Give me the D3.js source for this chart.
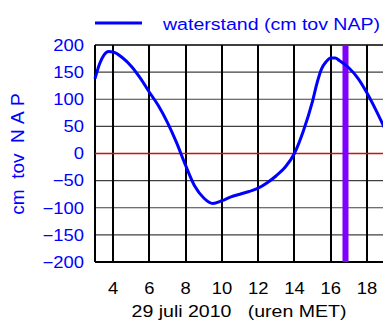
<!DOCTYPE html>
<html>
<head>
<meta charset="utf-8">
<script src="https://cdn.jsdelivr.net/npm/d3@7"></script>
<style>
  html, body { margin: 0; padding: 0; background: #fff; }
  svg { display: block; font-family: "Liberation Sans", Arial, sans-serif; }
</style>
</head>
<body>
<svg id="chart" width="383" height="326"></svg>
<script>
// Data (hours MET, 29 July 2010; water level in cm relative to NAP)
const hours = [3.0, 3.25, 3.5, 3.75, 4.0, 4.5, 5.0, 5.5, 6.0, 6.5, 7.0, 7.5, 8.0, 8.5, 9.0, 9.5, 10.0, 10.5, 11.0, 11.5, 12.0, 12.5, 13.0, 13.5, 14.0, 14.5, 15.0, 15.25, 15.5, 15.75, 16.0, 16.25, 16.5, 17.0, 17.5, 18.0, 18.5, 19.0];
const waterstand = [138, 165, 182, 188, 187, 177, 161, 139, 113, 88, 57, 20, -22, -60, -82, -92, -87, -80, -75, -70, -64, -54, -41, -25, 0, 42, 96, 130, 156, 169, 176, 176, 171, 158, 139, 112, 80, 45];
const xTicks = [4, 6, 8, 10, 12, 14, 16, 18];
const yTicks = [-200, -150, -100, -50, 0, 50, 100, 150, 200];
const markerHour = [16.82];
const legendLabel = "waterstand (cm tov NAP)";
const yTitle = "cm\u00a0\u00a0tov\u00a0\u00a0N\u00a0A\u00a0P";
const xTitle = "29 juli 2010\u00a0\u00a0\u00a0(uren MET)";

const svg = d3.select("#chart");
const x = d3.scaleLinear().domain([3, 19]).range([95, 385]);
const y = d3.scaleLinear().domain([-200, 200]).range([262, 45]);

const blue = "#0000ff";
const SX = 1.15; // horizontal stretch of the original lettering

function label(parent, tx, ty, txt, opts) {
  const g = parent.append("g")
    .attr("transform", `translate(${tx},${ty}) scale(${opts.sx || 1},1)`);
  g.append("text")
    .attr("text-anchor", opts.anchor || "start")
    .attr("dy", opts.dy || 0)
    .attr("fill", opts.fill || "#000")
    .attr("font-size", opts.size)
    .text(txt);
  return g;
}

// horizontal grid
svg.append("g").selectAll("line")
  .data(yTicks.filter(v => v !== 0 && v !== 200 && v !== -200))
  .join("line")
  .attr("x1", x(3)).attr("x2", x(19))
  .attr("y1", d => y(d)).attr("y2", d => y(d))
  .attr("stroke", "#000").attr("stroke-width", 1.2).attr("stroke-opacity", 0.75);

// vertical grid
svg.append("g").selectAll("line")
  .data(xTicks)
  .join("line")
  .attr("x1", d => Math.round(x(d))).attr("x2", d => Math.round(x(d)))
  .attr("y1", y(200)).attr("y2", y(-200))
  .attr("stroke", "#000").attr("stroke-width", 2);

// frame
svg.append("line").attr("x1", x(3)).attr("x2", x(19)).attr("y1", y(200)).attr("y2", y(200))
  .attr("stroke", "#000").attr("stroke-width", 1.5);
svg.append("line").attr("x1", x(3)).attr("x2", x(19)).attr("y1", y(-200)).attr("y2", y(-200))
  .attr("stroke", "#000").attr("stroke-width", 2);
svg.append("line").attr("x1", x(3)).attr("x2", x(3)).attr("y1", y(200)).attr("y2", y(-200))
  .attr("stroke", "#000").attr("stroke-width", 2);

// zero line
svg.append("line").attr("x1", x(3)).attr("x2", x(19)).attr("y1", y(0)).attr("y2", y(0))
  .attr("stroke", "#cc1111").attr("stroke-width", 1.5);

// marker (current time)
svg.append("g").selectAll("line").data(markerHour).join("line")
  .attr("x1", d => x(d)).attr("x2", d => x(d))
  .attr("y1", y(200)).attr("y2", y(-200))
  .attr("stroke", "#7f00ff").attr("stroke-width", 6);

// curve
const pts = hours.map((h, i) => [h, waterstand[i]]);
svg.append("path")
  .datum(pts)
  .attr("fill", "none")
  .attr("stroke", blue)
  .attr("stroke-width", 3)
  .attr("stroke-linejoin", "round")
  .attr("d", d3.line().x(d => x(d[0])).y(d => y(d[1])).curve(d3.curveMonotoneX));

// y tick labels
const yl = svg.append("g");
yTicks.forEach(d => label(yl, 84, y(d), d < 0 ? "\u2212" + Math.abs(d) : String(d),
  { anchor: "end", dy: "0.36em", fill: blue, size: 16, sx: SX }));

// x tick labels
const xl = svg.append("g");
xTicks.forEach(d => label(xl, x(d), 294, String(d), { anchor: "middle", size: 16, sx: SX }));

// x title
label(svg, 239, 317, xTitle, { anchor: "middle", size: 17, sx: SX });

// y title
svg.append("text")
  .attr("transform", "translate(24,154) rotate(-90)")
  .attr("text-anchor", "middle").attr("fill", blue).attr("font-size", 19)
  .text(yTitle);

// legend
svg.append("line").attr("x1", 95).attr("x2", 142).attr("y1", 23).attr("y2", 23)
  .attr("stroke", blue).attr("stroke-width", 3);
label(svg, 163, 29.5, legendLabel, { fill: blue, size: 17, sx: SX });
</script>
</body>
</html>
